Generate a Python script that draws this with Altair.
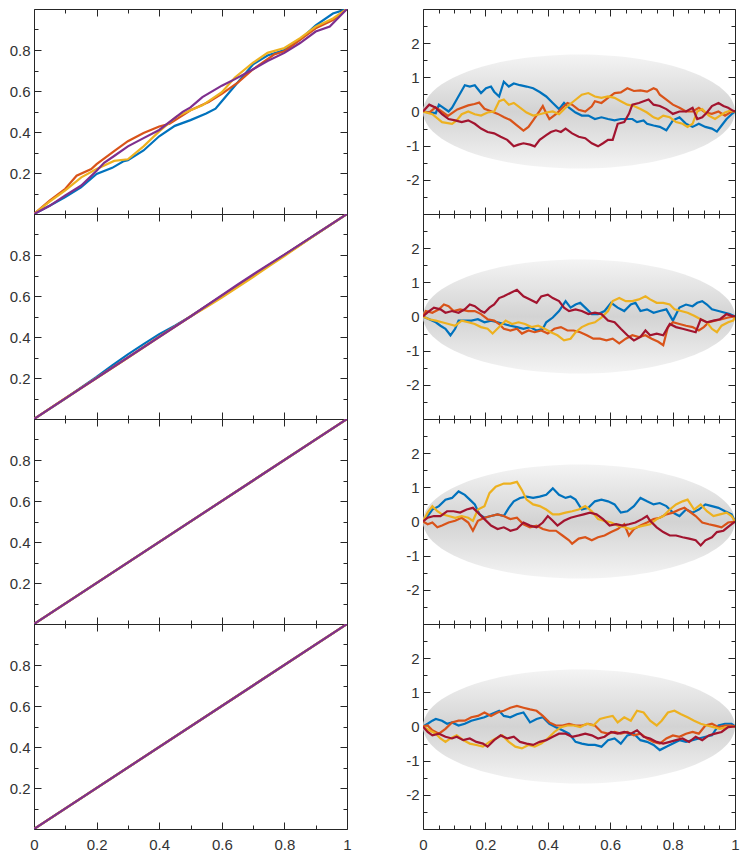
import altair as alt
import pandas as pd

# ---------------- colours ----------------
BLUE = "#0072BD"
ORANGE = "#D95319"
YELLOW = "#EDB120"
PURPLE = "#7E2F8E"
RED = "#A2142F"
AXIS_COLOR = "#262626"
LABEL_COLOR = "#333333"
FONT = "Liberation Sans"

# ---------------- tick values ----------------
LEFT_X_TICKS = [0, 0.1, 0.2, 0.3, 0.4, 0.5, 0.6, 0.7, 0.8, 0.9, 1]
RIGHT_X_TICKS = [0, 0.05, 0.1, 0.15, 0.2, 0.25, 0.3, 0.35, 0.4, 0.45, 0.5,
                 0.55, 0.6, 0.65, 0.7, 0.75, 0.8, 0.85, 0.9, 0.95, 1]
LEFT_Y_TICKS = [0.1, 0.2, 0.3, 0.4, 0.5, 0.6, 0.7, 0.8, 0.9]
RIGHT_Y_TICKS = [-2.5, -2, -1.5, -1, -0.5, 0, 0.5, 1, 1.5, 2, 2.5]

# ---------------- left column data (t, value) ----------------
L1_BLUE = [(0, 0), (0.05, 0.04), (0.1, 0.083), (0.15, 0.13), (0.2, 0.195), (0.25, 0.225),
           (0.287, 0.258), (0.3, 0.262), (0.35, 0.31), (0.4, 0.379), (0.45, 0.43), (0.5, 0.458),
           (0.55, 0.49), (0.58, 0.514), (0.6, 0.55), (0.65, 0.64), (0.7, 0.73), (0.746, 0.773),
           (0.8, 0.80), (0.85, 0.85), (0.9, 0.92), (0.955, 0.978), (1, 1)]
L1_ORANGE = [(0, 0), (0.05, 0.065), (0.1, 0.123), (0.136, 0.187), (0.183, 0.219), (0.2, 0.243),
             (0.256, 0.307), (0.3, 0.355), (0.35, 0.395), (0.4, 0.427), (0.433, 0.44), (0.5, 0.506),
             (0.558, 0.546), (0.6, 0.586), (0.652, 0.642), (0.7, 0.706), (0.767, 0.778), (0.8, 0.794),
             (0.85, 0.85), (0.9, 0.906), (0.955, 0.946), (0.986, 0.986), (1, 1)]
L1_YELLOW = [(0, 0), (0.05, 0.06), (0.1, 0.115), (0.151, 0.179), (0.2, 0.219), (0.256, 0.259),
             (0.3, 0.267), (0.35, 0.33), (0.4, 0.403), (0.454, 0.474), (0.5, 0.506), (0.538, 0.53),
             (0.6, 0.594), (0.642, 0.666), (0.7, 0.738), (0.746, 0.786), (0.8, 0.81), (0.85, 0.858),
             (0.9, 0.914), (0.955, 0.954), (1, 1)]
L1_PURPLE = [(0, 0), (0.05, 0.04), (0.1, 0.091), (0.151, 0.139), (0.2, 0.211), (0.224, 0.25),
             (0.256, 0.283), (0.3, 0.33), (0.35, 0.37), (0.4, 0.41), (0.475, 0.498), (0.5, 0.52),
             (0.538, 0.57), (0.6, 0.626), (0.642, 0.658), (0.7, 0.706), (0.746, 0.746), (0.8, 0.786),
             (0.85, 0.834), (0.9, 0.89), (0.945, 0.914), (1, 1)]

L2_BLUE = [(0, 0), (0.1, 0.1), (0.2, 0.205), (0.25, 0.262), (0.3, 0.315), (0.35, 0.365),
           (0.4, 0.414), (0.45, 0.455), (0.5, 0.5), (0.6, 0.6), (0.7, 0.7), (0.8, 0.8), (0.9, 0.9), (1, 1)]
L2_ORANGE = [(0, 0), (0.1, 0.102), (0.2, 0.2), (0.3, 0.3), (0.4, 0.402), (0.5, 0.5), (0.6, 0.6),
             (0.7, 0.7), (0.8, 0.8), (1, 1)]
L2_YELLOW = [(0, 0), (0.1, 0.1), (0.2, 0.2), (0.3, 0.298), (0.4, 0.4), (0.5, 0.5), (0.55, 0.545),
             (0.6, 0.592), (0.65, 0.642), (0.7, 0.692), (0.75, 0.745), (0.8, 0.795), (0.9, 0.9), (1, 1)]
L2_PURPLE = [(0, 0), (0.5, 0.5), (0.65, 0.655), (0.7, 0.705), (0.8, 0.802), (1, 1)]

L3_LINE = [(0, 0), (1, 1)]
L4_LINE = [(0, 0), (1, 1)]

# ---------------- right column data (t, value) ----------------
R1_BLUE = [(0, 0), (0.041, -0.05), (0.051, 0.2), (0.082, 0), (0.093, 0.11), (0.108, 0.35), (0.134, 0.77),
           (0.150, 0.73), (0.166, 0.77), (0.186, 0.54), (0.202, 0.68), (0.218, 0.73), (0.228, 0.58),
           (0.244, 0.44), (0.259, 0.87), (0.275, 0.73), (0.291, 0.82), (0.311, 0.77), (0.332, 0.73),
           (0.353, 0.68), (0.374, 0.57), (0.395, 0.44), (0.416, 0.25), (0.436, 0.07), (0.452, 0.25),
           (0.468, 0.11), (0.489, -0.03), (0.509, -0.12), (0.530, -0.12), (0.551, -0.22), (0.572, -0.17),
           (0.593, -0.22), (0.614, -0.26), (0.634, -0.22), (0.655, -0.22), (0.671, -0.22), (0.686, -0.31),
           (0.707, -0.26), (0.718, -0.36), (0.739, -0.41), (0.759, -0.45), (0.780, -0.55), (0.801, -0.26),
           (0.822, -0.17), (0.843, -0.36), (0.864, -0.45), (0.884, -0.36), (0.905, -0.45), (0.926, -0.5),
           (0.942, -0.59), (0.957, -0.41), (0.973, -0.22), (0.989, -0.08), (1, 0)]
R1_ORANGE = [(0, 0), (0.02, -0.03), (0.04, 0.12), (0.06, 0), (0.08, -0.13), (0.11, 0.06), (0.145, 0.18),
             (0.165, 0.22), (0.18, 0.26), (0.197, 0.08), (0.22, 0), (0.24, -0.07), (0.26, -0.17),
             (0.28, -0.25), (0.30, -0.4), (0.322, -0.56), (0.338, -0.45), (0.353, -0.26), (0.374, 0.02),
             (0.384, 0.16), (0.395, -0.05), (0.405, -0.22), (0.426, -0.08), (0.447, 0.11), (0.463, 0.25),
             (0.478, 0.2), (0.499, 0.05), (0.52, 0.0), (0.541, 0.15), (0.551, 0.3), (0.572, 0.25),
             (0.593, 0.4), (0.614, 0.54), (0.634, 0.56), (0.655, 0.68), (0.676, 0.6), (0.697, 0.62),
             (0.718, 0.58), (0.739, 0.68), (0.749, 0.64), (0.759, 0.49), (0.78, 0.35), (0.801, 0.2),
             (0.822, 0.11), (0.843, 0), (0.864, 0), (0.884, 0.11), (0.905, -0.03), (0.926, -0.07),
             (0.947, 0), (0.968, -0.12), (0.989, 0), (1, 0)]
R1_YELLOW = [(0, 0), (0.03, -0.08), (0.061, -0.31), (0.093, -0.36), (0.108, -0.26), (0.124, -0.08),
             (0.145, 0), (0.166, -0.08), (0.186, -0.12), (0.207, -0.03), (0.228, 0), (0.244, 0.3),
             (0.259, 0.35), (0.275, 0.2), (0.291, 0.25), (0.311, 0.11), (0.332, -0.03), (0.353, -0.12),
             (0.374, -0.08), (0.395, -0.03), (0.416, 0), (0.436, -0.08), (0.457, 0.11), (0.483, 0.3),
             (0.509, 0.49), (0.53, 0.54), (0.551, 0.44), (0.572, 0.4), (0.593, 0.44), (0.614, 0.4),
             (0.634, 0.3), (0.655, 0.2), (0.676, 0.16), (0.697, 0.07), (0.718, -0.03), (0.739, -0.17),
             (0.754, -0.22), (0.77, -0.12), (0.791, -0.17), (0.811, -0.31), (0.832, -0.36), (0.848, -0.45),
             (0.864, -0.36), (0.879, 0), (0.895, 0.07), (0.916, -0.12), (0.936, -0.22), (0.952, -0.12),
             (0.968, -0.03), (0.983, 0.02), (1, 0)]
R1_RED = [(0, 0), (0.02, 0.2), (0.041, 0.11), (0.061, -0.08), (0.082, -0.22), (0.103, -0.26), (0.124, -0.31),
          (0.145, -0.26), (0.166, -0.36), (0.186, -0.5), (0.207, -0.6), (0.228, -0.64), (0.249, -0.74),
          (0.27, -0.83), (0.291, -1.02), (0.306, -0.97), (0.322, -0.93), (0.343, -0.97), (0.358, -1.02),
          (0.374, -0.83), (0.395, -0.69), (0.41, -0.6), (0.426, -0.55), (0.442, -0.6), (0.457, -0.5),
          (0.478, -0.64), (0.499, -0.74), (0.52, -0.78), (0.541, -0.93), (0.561, -1.02), (0.577, -0.93),
          (0.593, -0.83), (0.608, -0.83), (0.624, -0.36), (0.645, -0.31), (0.66, -0.07), (0.671, 0.2),
          (0.692, 0.25), (0.707, 0.3), (0.723, 0.35), (0.739, 0.2), (0.759, 0.16), (0.78, 0.07),
          (0.801, -0.07), (0.822, 0), (0.843, 0), (0.864, 0.11), (0.879, -0.22), (0.895, -0.17),
          (0.91, -0.03), (0.926, 0.16), (0.947, 0.25), (0.963, 0.16), (0.978, 0.11), (0.994, 0.02), (1, 0)]

R2_BLUE = [(0, 0), (0.02, -0.08), (0.041, -0.17), (0.056, -0.27), (0.072, -0.36), (0.088, -0.55),
           (0.103, -0.36), (0.114, -0.12), (0.134, -0.12), (0.155, -0.12), (0.176, -0.08), (0.197, -0.17),
           (0.218, -0.12), (0.239, -0.17), (0.259, -0.22), (0.28, -0.27), (0.301, -0.31), (0.322, -0.36),
           (0.343, -0.31), (0.364, -0.41), (0.384, -0.36), (0.395, -0.17), (0.416, -0.03), (0.436, 0.16),
           (0.457, 0.45), (0.473, 0.26), (0.489, 0.35), (0.504, 0.4), (0.52, 0.26), (0.541, 0.07),
           (0.561, 0.07), (0.582, 0.16), (0.603, 0.4), (0.624, 0.26), (0.645, 0.16), (0.666, 0.35),
           (0.681, 0.4), (0.697, 0.16), (0.718, 0.21), (0.739, 0.11), (0.759, 0.16), (0.78, 0.21),
           (0.801, -0.12), (0.822, 0.26), (0.843, 0.35), (0.864, 0.3), (0.879, 0.4), (0.895, 0.45),
           (0.91, 0.35), (0.926, 0.21), (0.947, 0.16), (0.968, 0.11), (0.983, 0.07), (1, 0)]
R2_ORANGE = [(0, 0), (0.009, 0.16), (0.03, 0.11), (0.051, 0.21), (0.067, 0.35), (0.082, 0.3), (0.098, 0.16),
             (0.119, 0.21), (0.145, 0.16), (0.166, 0.16), (0.186, 0.07), (0.207, -0.08), (0.228, -0.12),
             (0.244, -0.22), (0.259, -0.36), (0.28, -0.41), (0.301, -0.36), (0.317, -0.5), (0.338, -0.41),
             (0.358, -0.46), (0.379, -0.41), (0.4, -0.5), (0.421, -0.36), (0.442, -0.31), (0.463, -0.41),
             (0.483, -0.41), (0.504, -0.46), (0.525, -0.55), (0.546, -0.65), (0.567, -0.65), (0.588, -0.7),
             (0.608, -0.65), (0.629, -0.79), (0.65, -0.65), (0.671, -0.55), (0.692, -0.6), (0.713, -0.55),
             (0.733, -0.65), (0.754, -0.74), (0.77, -0.84), (0.785, -0.31), (0.801, -0.17), (0.822, -0.22),
             (0.843, -0.27), (0.864, -0.31), (0.884, -0.41), (0.9, -0.31), (0.916, -0.17), (0.936, -0.12),
             (0.957, -0.08), (0.978, -0.03), (1, 0)]
R2_YELLOW = [(0, 0), (0.02, -0.08), (0.041, -0.12), (0.061, -0.17), (0.082, -0.22), (0.103, -0.27),
             (0.124, -0.12), (0.145, -0.17), (0.166, -0.22), (0.186, -0.31), (0.207, -0.36), (0.223, -0.5),
             (0.244, -0.31), (0.265, -0.12), (0.285, -0.22), (0.306, -0.17), (0.327, -0.22), (0.348, -0.31),
             (0.369, -0.27), (0.39, -0.36), (0.41, -0.46), (0.431, -0.55), (0.452, -0.7), (0.473, -0.65),
             (0.489, -0.46), (0.509, -0.31), (0.53, -0.22), (0.551, -0.17), (0.572, -0.03), (0.593, 0.16),
             (0.608, 0.45), (0.629, 0.54), (0.65, 0.45), (0.671, 0.45), (0.692, 0.5), (0.713, 0.59),
             (0.728, 0.5), (0.749, 0.4), (0.77, 0.4), (0.791, 0.35), (0.806, 0.21), (0.827, 0.16),
             (0.848, 0.11), (0.869, 0.02), (0.89, -0.08), (0.91, -0.17), (0.926, -0.36), (0.942, -0.46),
             (0.957, -0.27), (0.978, -0.17), (0.994, -0.12), (1, 0)]
R2_RED = [(0, 0), (0.02, 0.16), (0.035, 0.26), (0.056, 0.21), (0.072, 0.11), (0.093, 0.16), (0.114, 0.11),
          (0.134, 0.21), (0.15, 0.35), (0.166, 0.3), (0.186, 0.16), (0.197, 0.11), (0.213, 0.26),
          (0.228, 0.35), (0.244, 0.54), (0.259, 0.59), (0.28, 0.69), (0.301, 0.78), (0.322, 0.59),
          (0.343, 0.5), (0.364, 0.4), (0.379, 0.59), (0.4, 0.64), (0.416, 0.54), (0.436, 0.45),
          (0.452, 0.26), (0.468, 0.16), (0.489, 0.21), (0.509, 0.16), (0.53, 0.07), (0.551, 0.11),
          (0.572, 0.07), (0.593, -0.12), (0.614, -0.17), (0.634, -0.36), (0.655, -0.55), (0.676, -0.7),
          (0.697, -0.6), (0.713, -0.41), (0.728, -0.55), (0.749, -0.5), (0.77, -0.55), (0.791, -0.22),
          (0.811, -0.31), (0.832, -0.36), (0.853, -0.41), (0.874, -0.46), (0.89, -0.08), (0.91, -0.17),
          (0.931, -0.12), (0.952, -0.08), (0.973, 0.07), (0.989, 0.02), (1, 0)]

R3_BLUE = [(0, 0), (0.015, 0.16), (0.03, 0.35), (0.051, 0.45), (0.072, 0.64), (0.093, 0.69), (0.114, 0.88),
           (0.134, 0.78), (0.15, 0.64), (0.166, 0.5), (0.181, 0.21), (0.197, 0.11), (0.218, 0.16),
           (0.239, 0.21), (0.259, 0.16), (0.275, 0.4), (0.291, 0.59), (0.311, 0.69), (0.332, 0.73),
           (0.353, 0.69), (0.374, 0.73), (0.395, 0.78), (0.416, 0.97), (0.436, 0.78), (0.457, 0.69),
           (0.473, 0.73), (0.489, 0.64), (0.509, 0.35), (0.53, 0.4), (0.551, 0.59), (0.572, 0.64),
           (0.593, 0.59), (0.614, 0.5), (0.634, 0.26), (0.655, 0.3), (0.676, 0.45), (0.697, 0.69),
           (0.718, 0.59), (0.739, 0.5), (0.759, 0.54), (0.78, 0.45), (0.801, 0.26), (0.822, 0.16),
           (0.843, 0.35), (0.864, 0.26), (0.884, 0.35), (0.905, 0.5), (0.926, 0.45), (0.947, 0.4),
           (0.968, 0.3), (0.989, 0.21), (1, 0)]
R3_ORANGE = [(0, 0), (0.015, -0.08), (0.03, -0.03), (0.046, -0.17), (0.061, -0.12), (0.082, -0.03),
             (0.103, 0.02), (0.124, 0.11), (0.145, -0.03), (0.16, -0.27), (0.176, 0.02), (0.197, 0.11),
             (0.218, 0.16), (0.239, 0.21), (0.259, 0.16), (0.28, 0.07), (0.301, 0.11), (0.322, -0.08),
             (0.343, -0.17), (0.364, -0.12), (0.384, -0.22), (0.405, -0.27), (0.426, -0.27), (0.447, -0.41),
             (0.468, -0.55), (0.478, -0.65), (0.499, -0.5), (0.52, -0.46), (0.541, -0.55), (0.561, -0.46),
             (0.582, -0.41), (0.603, -0.31), (0.624, -0.22), (0.645, -0.08), (0.66, -0.41), (0.676, -0.22),
             (0.697, -0.12), (0.718, -0.03), (0.739, 0.07), (0.759, 0.11), (0.78, 0.21), (0.801, 0.26),
             (0.822, 0.35), (0.838, 0.4), (0.853, 0.3), (0.874, 0.16), (0.895, -0.03), (0.916, -0.08),
             (0.936, -0.12), (0.957, -0.17), (0.978, -0.03), (1, 0)]
R3_YELLOW = [(0, 0), (0.015, 0.26), (0.03, 0.45), (0.046, 0.3), (0.061, 0.21), (0.082, 0.16), (0.103, 0.11),
             (0.124, 0.16), (0.145, 0.11), (0.16, 0.02), (0.176, 0.35), (0.197, 0.45), (0.213, 0.83),
             (0.233, 1.02), (0.259, 1.11), (0.28, 1.11), (0.301, 1.16), (0.317, 0.92), (0.332, 0.64),
             (0.353, 0.5), (0.374, 0.45), (0.395, 0.35), (0.416, 0.21), (0.436, 0.21), (0.457, 0.26),
             (0.478, 0.3), (0.499, 0.35), (0.52, 0.45), (0.541, 0.3), (0.561, 0.07), (0.582, 0.02),
             (0.603, -0.03), (0.624, -0.12), (0.645, -0.17), (0.666, -0.22), (0.686, -0.17), (0.707, -0.12),
             (0.728, -0.08), (0.749, 0.07), (0.77, 0.16), (0.791, 0.35), (0.811, 0.5), (0.832, 0.59),
             (0.848, 0.64), (0.869, 0.35), (0.89, 0.5), (0.91, 0.3), (0.931, 0.16), (0.952, 0.21),
             (0.973, 0.26), (0.989, 0.16), (1, 0)]
R3_RED = [(0, 0), (0.015, 0.11), (0.035, 0.16), (0.056, 0.16), (0.077, 0.3), (0.098, 0.3), (0.119, 0.26),
          (0.14, 0.35), (0.16, 0.4), (0.176, 0.26), (0.197, 0.07), (0.218, -0.12), (0.239, -0.22),
          (0.259, -0.17), (0.28, -0.27), (0.301, -0.22), (0.322, -0.03), (0.343, -0.12), (0.364, -0.17),
          (0.384, -0.03), (0.4, 0.16), (0.416, 0.02), (0.431, -0.12), (0.452, 0.02), (0.473, 0.11),
          (0.494, 0.16), (0.515, 0.21), (0.535, 0.26), (0.556, 0.21), (0.577, 0.07), (0.598, -0.12),
          (0.619, -0.08), (0.64, -0.12), (0.66, -0.08), (0.681, -0.03), (0.702, 0.07), (0.718, 0.16),
          (0.728, 0.02), (0.749, -0.17), (0.77, -0.31), (0.791, -0.41), (0.811, -0.41), (0.832, -0.46),
          (0.853, -0.5), (0.874, -0.55), (0.89, -0.7), (0.905, -0.55), (0.926, -0.46), (0.942, -0.31),
          (0.963, -0.27), (0.983, -0.12), (1, 0)]

R4_BLUE = [(0, 0), (0.015, 0.08), (0.03, 0.17), (0.041, 0.22), (0.061, 0.17), (0.077, 0.08), (0.093, 0.12),
           (0.114, 0.03), (0.134, 0.08), (0.155, 0.17), (0.176, 0.22), (0.197, 0.27), (0.218, 0.36),
           (0.244, 0.46), (0.259, 0.31), (0.28, 0.27), (0.301, 0.36), (0.322, 0.41), (0.343, 0.12),
           (0.364, 0.22), (0.384, 0.27), (0.405, 0.08), (0.426, -0.02), (0.447, -0.11), (0.468, -0.21),
           (0.489, -0.45), (0.509, -0.5), (0.53, -0.54), (0.551, -0.54), (0.572, -0.59), (0.593, -0.4),
           (0.614, -0.35), (0.634, -0.5), (0.655, -0.26), (0.676, -0.21), (0.697, -0.4), (0.718, -0.45),
           (0.739, -0.54), (0.759, -0.69), (0.78, -0.59), (0.801, -0.5), (0.822, -0.4), (0.843, -0.45),
           (0.864, -0.4), (0.884, -0.35), (0.905, -0.3), (0.926, -0.26), (0.947, 0.03), (0.968, 0.08),
           (0.989, 0.08), (1, 0)]
R4_ORANGE = [(0, 0), (0.015, 0.03), (0.03, -0.11), (0.051, -0.21), (0.072, -0.07), (0.093, 0.12),
             (0.114, 0.17), (0.134, 0.17), (0.155, 0.27), (0.176, 0.31), (0.197, 0.41), (0.218, 0.31),
             (0.239, 0.41), (0.259, 0.46), (0.28, 0.55), (0.301, 0.6), (0.322, 0.55), (0.343, 0.5),
             (0.364, 0.46), (0.384, 0.31), (0.405, 0.12), (0.426, 0.03), (0.447, 0.03), (0.468, 0.08),
             (0.489, 0.03), (0.509, 0.03), (0.53, 0.08), (0.551, 0.03), (0.572, -0.16), (0.593, -0.21),
             (0.614, -0.16), (0.634, -0.21), (0.655, -0.16), (0.676, -0.26), (0.697, -0.21), (0.718, -0.35),
             (0.739, -0.45), (0.759, -0.5), (0.78, -0.35), (0.801, -0.26), (0.822, -0.3), (0.843, -0.21),
             (0.864, -0.16), (0.884, -0.21), (0.905, 0.03), (0.926, 0.08), (0.947, -0.02), (0.968, 0.03),
             (0.989, 0.03), (1, 0)]
R4_YELLOW = [(0, 0), (0.02, -0.11), (0.041, -0.21), (0.056, -0.35), (0.072, -0.45), (0.088, -0.35),
             (0.108, -0.26), (0.129, -0.4), (0.15, -0.5), (0.171, -0.54), (0.192, -0.59), (0.213, -0.45),
             (0.233, -0.35), (0.254, -0.26), (0.275, -0.45), (0.296, -0.59), (0.317, -0.64), (0.338, -0.54),
             (0.358, -0.59), (0.379, -0.5), (0.4, -0.35), (0.421, -0.16), (0.442, -0.02), (0.463, 0.03),
             (0.483, 0.03), (0.504, -0.02), (0.525, 0.08), (0.546, 0.03), (0.567, 0.22), (0.588, 0.27),
             (0.608, 0.31), (0.624, 0.12), (0.645, 0.27), (0.666, 0.17), (0.686, 0.46), (0.707, 0.41),
             (0.728, 0.17), (0.749, 0.03), (0.765, 0.17), (0.785, 0.41), (0.806, 0.46), (0.827, 0.36),
             (0.848, 0.27), (0.869, 0.17), (0.89, 0.08), (0.91, 0.03), (0.931, -0.02), (0.952, -0.07),
             (0.973, -0.02), (1, 0)]
R4_RED = [(0, 0), (0.015, -0.16), (0.03, -0.26), (0.051, -0.21), (0.072, -0.3), (0.093, -0.35), (0.108, -0.3),
          (0.129, -0.4), (0.15, -0.35), (0.171, -0.45), (0.192, -0.5), (0.207, -0.59), (0.228, -0.4),
          (0.249, -0.26), (0.27, -0.35), (0.291, -0.3), (0.311, -0.45), (0.332, -0.5), (0.353, -0.54),
          (0.374, -0.45), (0.395, -0.4), (0.416, -0.3), (0.436, -0.21), (0.457, -0.21), (0.478, -0.3),
          (0.499, -0.26), (0.52, -0.21), (0.541, -0.26), (0.561, -0.35), (0.582, -0.3), (0.603, -0.16),
          (0.624, -0.21), (0.645, -0.16), (0.666, -0.21), (0.686, -0.11), (0.707, -0.3), (0.728, -0.35),
          (0.749, -0.45), (0.77, -0.5), (0.791, -0.45), (0.811, -0.4), (0.832, -0.35), (0.853, -0.45),
          (0.874, -0.3), (0.895, -0.4), (0.916, -0.26), (0.936, -0.21), (0.957, -0.16), (0.978, -0.02), (1, 0)]

# grey band centre (t, value)
BAND_CENTER = [(0.5, 0)]

# ---------------- helpers ----------------
MAJOR_02 = "abs(datum.value*5 - round(datum.value*5)) < 0.001"
MAJOR_1 = "abs(datum.value - round(datum.value)) < 0.001"

ELLIPSE = ("M-1,0 C-1,-0.202 -0.552,-0.366 0,-0.366 C0.552,-0.366 1,-0.202 1,0 "
           "C1,0.202 0.552,0.366 0,0.366 C-0.552,0.366 -1,0.202 -1,0 Z")
BAND_FILL = {"gradient": "linear", "x1": 0, "x2": 0, "y1": 0, "y2": 1,
             "stops": [{"offset": 0, "color": "#f4f4f4"},
                       {"offset": 0.5, "color": "#d3d3d3"},
                       {"offset": 1, "color": "#f4f4f4"}]}

LW, RW, H = 313, 312, 205


def make_axis(orient, values, major_test, label_expr=None, pad=0):
    kw = dict(orient=orient, values=values, domain=False, grid=False, ticks=True,
              tickColor=AXIS_COLOR, tickWidth=1,
              tickSize={"condition": {"test": major_test, "value": -7}, "value": -4},
              title=None)
    if label_expr is None:
        kw["labels"] = False
    else:
        kw.update(labels=True, labelExpr=label_expr, labelFont=FONT, labelFontSize=15,
                  labelColor=LABEL_COLOR, labelPadding=pad, labelFlush=False,
                  labelOverlap=False)
    return alt.Axis(**kw)


def frame(pairs):
    return pd.DataFrame(pairs, columns=["t", "v"])


def panel(series, colors, ydom, xticks, yticks, ymajor, ylabel_expr, bottom, right, width):
    xs = alt.Scale(domain=[0, 1], nice=False, zero=False)
    ys = alt.Scale(domain=ydom, nice=False, zero=False)
    xlabel_expr = (MAJOR_02 + " ? '' + datum.value : ''") if bottom else None

    if right:
        bg = alt.Chart(frame(BAND_CENTER)).mark_point(
            shape=ELLIPSE, size=width * width, filled=True, fill=BAND_FILL, opacity=1,
            strokeOpacity=0, clip=True)
    else:
        bg = alt.Chart(frame([(0.5, 0.5)])).mark_point(opacity=0, clip=True)
    bg = bg.encode(
        x=alt.X("t:Q", scale=xs, axis=make_axis("top", xticks, MAJOR_02)),
        y=alt.Y("v:Q", scale=ys, axis=make_axis("right", yticks, ymajor)),
    )
    layers = [bg]
    for i, (pairs, col) in enumerate(zip(series, colors)):
        if i == 0:
            xa = make_axis("bottom", xticks, MAJOR_02, xlabel_expr, 15)
            ya = make_axis("left", yticks, ymajor, ylabel_expr, 11)
        else:
            xa = None
            ya = None
        layers.append(
            alt.Chart(frame(pairs)).mark_line(color=col, strokeWidth=2.2, clip=True).encode(
                x=alt.X("t:Q", scale=xs, axis=xa),
                y=alt.Y("v:Q", scale=ys, axis=ya),
            )
        )
    return alt.layer(*layers).resolve_axis(x="independent", y="independent").properties(width=width, height=H)


LEFT_COLORS = [BLUE, ORANGE, YELLOW, PURPLE]
RIGHT_COLORS = [BLUE, ORANGE, YELLOW, RED]
LEFT_YLABEL = MAJOR_02 + " ? '' + datum.value : ''"
RIGHT_YLABEL = MAJOR_1 + " ? '' + datum.value : ''"

left_series = [
    [L1_BLUE, L1_ORANGE, L1_YELLOW, L1_PURPLE],
    [L2_BLUE, L2_ORANGE, L2_YELLOW, L2_PURPLE],
    [L3_LINE, L3_LINE, L3_LINE, L3_LINE],
    [L4_LINE, L4_LINE, L4_LINE, L4_LINE],
]
right_series = [
    [R1_BLUE, R1_ORANGE, R1_YELLOW, R1_RED],
    [R2_BLUE, R2_ORANGE, R2_YELLOW, R2_RED],
    [R3_BLUE, R3_ORANGE, R3_YELLOW, R3_RED],
    [R4_BLUE, R4_ORANGE, R4_YELLOW, R4_RED],
]

left_panels = [panel(s, LEFT_COLORS, [0, 1], LEFT_X_TICKS, LEFT_Y_TICKS, MAJOR_02, LEFT_YLABEL,
                     i == 3, False, LW) for i, s in enumerate(left_series)]
right_panels = [panel(s, RIGHT_COLORS, [-3, 3], RIGHT_X_TICKS, RIGHT_Y_TICKS, MAJOR_1, RIGHT_YLABEL,
                      i == 3, True, RW) for i, s in enumerate(right_series)]

# with flush bounds the nested column counts as zero width, so this is the
# offset between the left edges of the two plot columns
chart = alt.hconcat(
    alt.vconcat(*left_panels, spacing=0, bounds="flush"),
    alt.vconcat(*right_panels, spacing=0, bounds="flush"),
    spacing=389,
    bounds="flush",
).configure_view(stroke=AXIS_COLOR, strokeWidth=1).properties(
    padding={"left": 0, "top": 0, "right": 0, "bottom": 0},
    background="white",
)

chart.save("out.html", embed_options={"renderer": "svg", "actions": False})
